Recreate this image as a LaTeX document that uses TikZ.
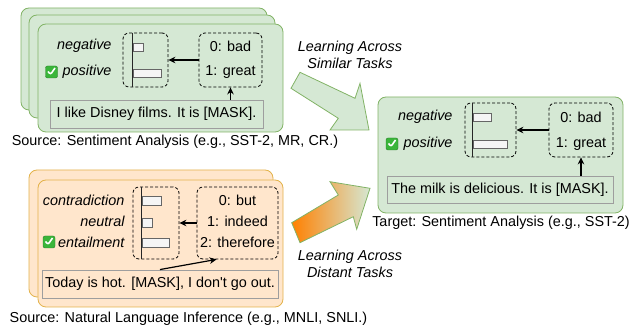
\documentclass[tikz,border=0pt]{standalone}
\usepackage{fontspec}
\setmainfont{Liberation Sans}
\usetikzlibrary{arrows.meta}

\definecolor{boxgreen}{HTML}{D5E8D4}
\definecolor{linegreen}{HTML}{82B366}
\definecolor{boxorange}{HTML}{FFE6CC}
\definecolor{lineorange}{HTML}{E3B24A}
\definecolor{arroworange}{HTML}{FF8000}
\definecolor{linegray}{HTML}{9E9E9E}
\definecolor{bargray}{HTML}{F5F5F5}
\definecolor{tickgreen}{HTML}{3AB53A}

\newcommand{\figfont}{\fontsize{14.4}{17}\selectfont}

\tikzset{
  greenbox/.style={draw=linegreen, fill=boxgreen, rounded corners=8pt, line width=0.8pt},
  orangebox/.style={draw=lineorange, fill=boxorange, rounded corners=8pt, line width=0.8pt},
  dashbox/.style={draw, dash pattern=on 3pt off 2pt, rounded corners=6pt, line width=0.8pt, inner sep=0pt},
  textbox/.style={draw=linegray, line width=0.9pt, inner sep=0pt},
  classlabel/.style={anchor=east, font=\figfont\itshape},
  tasklabel/.style={align=center, font=\figfont\itshape},
  bar/.style={draw=black!60, fill=bargray, line width=0.6pt},
  axis/.style={line width=1.2pt, black!85},
  arr/.style={-{Stealth[length=7pt,width=6.5pt]}, line width=1.2pt},
  tick/.style={fill=tickgreen, draw=tickgreen!70!black, line width=0.4pt, rounded corners=2pt,
    minimum size=12pt, inner sep=0pt,
    path picture={\draw[white, line width=1.6pt]
      ([xshift=-3.5pt,yshift=0.5pt]path picture bounding box.center) -- ++(2.5pt,-3pt) -- ++(4.5pt,6.5pt);}}
}

\begin{document}
\begin{tikzpicture}[x=1pt, y=-1pt, font=\figfont]
    \useasboundingbox (0,0) rectangle (638,328);

    \draw[greenbox] (21,8) rectangle (267,110);
    \draw[greenbox] (29,15) rectangle (275,118);
    \draw[greenbox] (38,24) rectangle (283,132);

    \node[classlabel] (srcneg) at (115,46) {negative};
    \node[classlabel] (srcpos) at (115,72) {positive};
    \node[tick] (srctick) at (51.5,72) {};
    \node[dashbox, minimum width=45, minimum height=54] (srcbars) at (145.5,60) {};
    \draw[axis] ([xshift=10pt]srcbars.north west) -- ([xshift=10pt]srcbars.south west);
    \draw[bar] (133,43) rectangle (143,51);
    \draw[bar] (133,69) rectangle (161,77);
    \node[dashbox, minimum width=63, minimum height=54] (srclabels) at (230.5,60) {};
    \node (srcbad) at (230.5,46) {0: bad};
    \node (srcgreat) at (230.5,72) {1: great};
    \node[textbox, fill=boxgreen, minimum width=213, minimum height=28] (srctext) at (156.5,114) {I like Disney films. It is [MASK].};
    \draw[arr] (srclabels.west) -- (srcbars.east);
    \draw[arr] (srctext.north -| srclabels.south) -- (srclabels.south);
    \node (srccap) at (175,142) {Source: Sentiment Analysis (e.g., SST-2, MR, CR.)};

    \draw[orangebox] (29,170) rectangle (273,297);
    \draw[orangebox] (38,180) rectangle (283,307);

    \node[classlabel] (nlicon) at (128,200) {contradiction};
    \node[classlabel] (nlineu) at (128,221.5) {neutral};
    \node[classlabel] (nlient) at (128,242) {entailment};
    \node[tick] (nlitick) at (49,242) {};
    \node[dashbox, minimum width=46, minimum height=72] (nlibars) at (156,223) {};
    \draw[axis] ([xshift=9pt]nlibars.north west) -- ([xshift=9pt]nlibars.south west);
    \draw[bar] (142,196) rectangle (161,205);
    \draw[bar] (142,218) rectangle (152,227);
    \draw[bar] (142,238) rectangle (169,247);
    \node[dashbox, minimum width=81, minimum height=72] (nlilabels) at (237.5,223) {};
    \node (nlibut) at (237.5,200) {0: but};
    \node (nliindeed) at (237.5,221.5) {1: indeed};
    \node (nlitherefore) at (237.5,242) {2: therefore};
    \node[textbox, fill=boxorange, minimum width=236, minimum height=28] (nlitext) at (160,284) {Today is hot. [MASK], I don\textquotesingle t go out.};
    \draw[arr] (nlitext.north) -- ([xshift=20pt]nlilabels.south west);
    \draw[arr] (nlilabels.west) -- (nlibars.east);
    \node (nlicap) at (188.5,319) {Source: Natural Language Inference (e.g., MNLI, SNLI.)};

    \draw[draw=linegreen, fill=boxgreen, line width=0.8pt] (300,72.3) -- (355,98.3) -- (360,83.3) -- (369,130)
        -- (330,130) -- (338.3,118.3) -- (291,88.3) -- cycle;
    \node[tasklabel] (simlabel) at (350,54.5) {Learning Across\\Similar Tasks};

    \draw[draw=linegreen, left color=arroworange, right color=boxgreen, line width=0.8pt] (300,242.7) -- (353.3,216.7)
        -- (356.7,229.3) -- (370,188.3) -- (330,181.7) -- (338.3,195) -- (291.7,222.7) -- cycle;
    \node[tasklabel] (dislabel) at (350,264) {Learning Across\\Distant Tasks};

    \draw[greenbox] (378,97) rectangle (623,213);

    \node[classlabel] (tgtneg) at (456,117) {negative};
    \node[classlabel] (tgtpos) at (456,144) {positive};
    \node[tick] (tgttick) at (392,144) {};
    \node[dashbox, minimum width=51, minimum height=54] (tgtbars) at (490.5,130) {};
    \draw[axis] ([xshift=8pt]tgtbars.north west) -- ([xshift=8pt]tgtbars.south west);
    \draw[bar] (473,113) rectangle (491,121);
    \draw[bar] (473,140) rectangle (507,148);
    \node[dashbox, minimum width=64, minimum height=54] (tgtlabels) at (581,130) {};
    \node (tgtbad) at (581,117) {0: bad};
    \node (tgtgreat) at (581,144) {1: great};
    \node[textbox, fill=boxgreen, minimum width=226, minimum height=27] (tgttext) at (500,189.5) {The milk is delicious. It is [MASK].};
    \draw[arr] (tgtlabels.west) -- (tgtbars.east);
    \draw[arr] (tgttext.north -| tgtlabels.south) -- (tgtlabels.south);
    \node (tgtcap) at (501,223) {Target: Sentiment Analysis (e.g., SST-2)};

\end{tikzpicture}
\end{document}
